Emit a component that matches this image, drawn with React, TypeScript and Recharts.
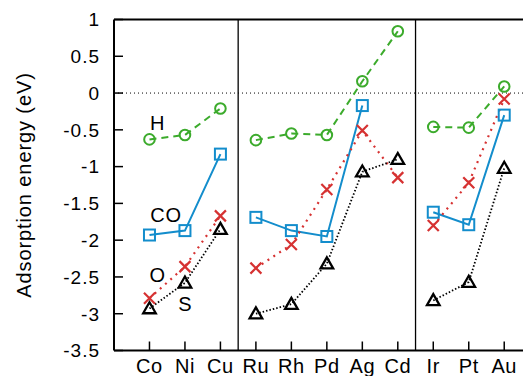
import { LineChart, Line, XAxis, YAxis, ReferenceLine, ReferenceDot } from "recharts";

const metals = ["Co", "Ni", "Cu", "Ru", "Rh", "Pd", "Ag", "Cd", "Ir", "Pt", "Au"];
const groupSizes = [3, 5, 3];
const hValues = [-0.63, -0.57, -0.21, -0.64, -0.55, -0.57, 0.16, 0.84, -0.46, -0.47, 0.09];
const coValues = [-1.93, -1.87, -0.83, -1.69, -1.87, -1.95, -0.17, null, -1.62, -1.79, -0.3];
const oValues = [-2.79, -2.36, -1.67, -2.38, -2.06, -1.31, -0.51, -1.15, -1.8, -1.22, -0.08];
const sValues = [-2.93, -2.58, -1.85, -3.0, -2.87, -2.32, -1.07, -0.9, -2.82, -2.57, -1.02];
const yTicks = [-3.5, -3, -2.5, -2, -1.5, -1, -0.5, 0, 0.5, 1];
const seriesLabels = [
  { text: "H", x: 1.23, y: -0.41 },
  { text: "CO", x: 1.47, y: -1.66 },
  { text: "O", x: 1.23, y: -2.48 },
  { text: "S", x: 2.01, y: -2.87 },
];

// rows at x = 1..11, plus empty rows between the groups so the lines break
const data: any[] = [];
const separators: number[] = [];
let idx = 0;
groupSizes.forEach((size, g) => {
  for (let k = 0; k < size; k++, idx++) {
    data.push({ x: idx + 1, h: hValues[idx], co: coValues[idx], o: oValues[idx], s: sValues[idx] });
  }
  if (g < groupSizes.length - 1) {
    data.push({ x: idx + 0.5, h: null, co: null, o: null, s: null });
    separators.push(idx + 0.5);
  }
});

const GREEN = "#3cab2c";
const BLUE = "#138dcc";
const RED = "#d63232";
const FONT = "'Liberation Sans', Arial, sans-serif";

const ok = (p: any) => p.cx != null && p.cy != null && p.value != null;

const CircleDot = (p: any) =>
  ok(p) ? <circle key={p.index} cx={p.cx} cy={p.cy} r={5.3} fill="none" stroke={GREEN} strokeWidth={2} /> : <g key={p.index} />;
const SquareDot = (p: any) =>
  ok(p) ? (
    <rect key={p.index} x={p.cx - 5.5} y={p.cy - 5.5} width={11} height={11} fill="none" stroke={BLUE} strokeWidth={2} />
  ) : (
    <g key={p.index} />
  );
const CrossDot = (p: any) =>
  ok(p) ? (
    <path key={p.index} d={`M${p.cx - 5.5},${p.cy - 5.5}L${p.cx + 5.5},${p.cy + 5.5}M${p.cx - 5.5},${p.cy + 5.5}L${p.cx + 5.5},${p.cy - 5.5}`} stroke={RED} strokeWidth={2.2} fill="none" />
  ) : (
    <g key={p.index} />
  );
const TriangleDot = (p: any) =>
  ok(p) ? (
    <path key={p.index} d={`M${p.cx},${p.cy - 6.3}L${p.cx + 6.3},${p.cy + 4.7}L${p.cx - 6.3},${p.cy + 4.7}Z`} stroke="#000" strokeWidth={2.3} fill="none" />
  ) : (
    <g key={p.index} />
  );

const XTick = (p: any) => (
  <text x={p.x} y={p.y + 22} textAnchor="middle" fontSize={20} letterSpacing={0.6} fill="#000" fontFamily={FONT}>
    {metals[p.payload.value - 1]}
  </text>
);
const YTick = (p: any) => (
  <text x={p.x} y={p.y + 6.8} textAnchor="end" fontSize={19} letterSpacing={1} fill="#000" fontFamily={FONT}>
    {p.payload.value}
  </text>
);

export default function App() {
  return (
    <div style={{ margin: -8, width: 531, height: 384, overflow: "hidden" }}>
      <LineChart
        width={560}
        height={384}
        data={data}
        margin={{ top: 18.5, right: 19.3, bottom: 0, left: 0 }}
        style={{ fontFamily: FONT }}
      >
        <XAxis
          dataKey="x"
          type="number"
          domain={[0, 12]}
          ticks={metals.map((_, i) => i + 1)}
          height={33.5}
          tickSize={-9}
          tickMargin={9}
          axisLine={{ stroke: "#000", strokeWidth: 2 }}
          tickLine={{ stroke: "#000", strokeWidth: 1.5 }}
          tick={XTick}
          interval={0}
        />
        <XAxis
          xAxisId="top"
          orientation="top"
          dataKey="x"
          type="number"
          domain={[0, 12]}
          ticks={metals.map((_, i) => i + 1)}
          height={1}
          tickSize={-9}
          axisLine={{ stroke: "#000", strokeWidth: 2 }}
          tickLine={{ stroke: "#000", strokeWidth: 1.5 }}
          tick={false}
        />
        <YAxis
          type="number"
          domain={[-3.5, 1]}
          ticks={yTicks}
          width={114}
          tickSize={-9}
          tickMargin={23}
          axisLine={{ stroke: "#000", strokeWidth: 2 }}
          tickLine={{ stroke: "#000", strokeWidth: 1.5 }}
          tick={YTick}
          interval={0}
          label={{
            value: "Adsorption energy (eV)",
            angle: -90,
            position: "center",
            dx: -33,
            style: { fill: "#000", fontSize: 20, letterSpacing: 0.9, textAnchor: "middle" },
          }}
        />
        <YAxis
          yAxisId="right"
          orientation="right"
          type="number"
          domain={[-3.5, 1]}
          ticks={yTicks}
          width={1}
          tickSize={-9}
          axisLine={{ stroke: "#000", strokeWidth: 2 }}
          tickLine={{ stroke: "#000", strokeWidth: 1.5 }}
          tick={false}
        />
        <ReferenceLine y={0} stroke="#000" strokeWidth={1} strokeDasharray="1 3" />
        {separators.map((s) => (
          <ReferenceLine key={s} x={s} stroke="#000" strokeWidth={1.3} />
        ))}
        <Line dataKey="h" stroke={GREEN} strokeWidth={2} strokeDasharray="7 5" dot={CircleDot} isAnimationActive={false} />
        <Line dataKey="co" stroke={BLUE} strokeWidth={2} dot={SquareDot} isAnimationActive={false} />
        <Line dataKey="o" stroke={RED} strokeWidth={2.2} strokeDasharray="2 5" dot={CrossDot} isAnimationActive={false} />
        <Line dataKey="s" stroke="#000" strokeWidth={1.8} strokeDasharray="1.5 2" dot={TriangleDot} isAnimationActive={false} />
        {seriesLabels.map((l) => (
          <ReferenceDot
            key={l.text}
            x={l.x}
            y={l.y}
            r={0}
            shape={(p: any) => (
              <text x={p.cx} y={p.cy + 7} textAnchor="middle" fontSize={20} letterSpacing={0.8} fill="#000">
                {l.text}
              </text>
            )}
          />
        ))}
      </LineChart>
    </div>
  );
}
